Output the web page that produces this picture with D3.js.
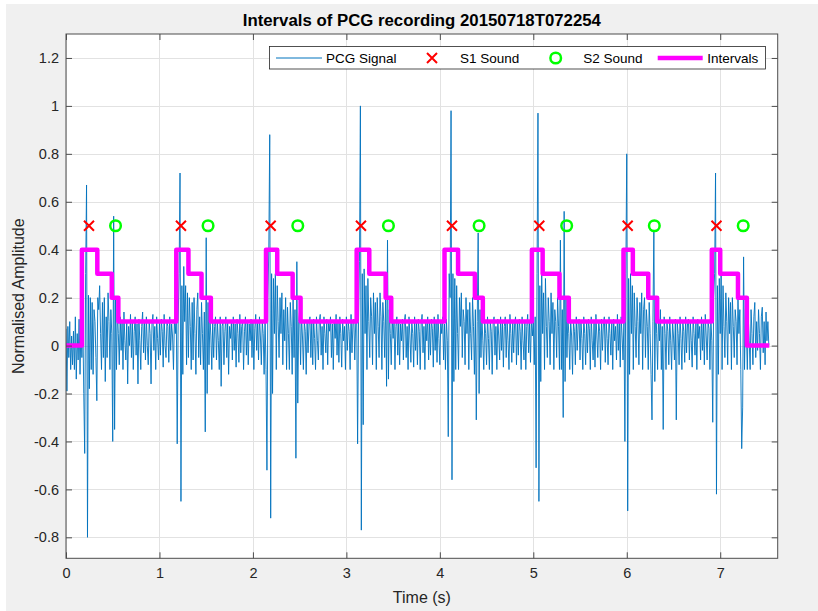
<!DOCTYPE html>
<html><head><meta charset="utf-8">
<script src="https://cdn.jsdelivr.net/npm/d3@7"></script>
<style>
body{margin:0;background:#fff}
svg{display:block;font-family:"Liberation Sans",Arial,Helvetica,sans-serif}
</style>
</head><body><svg id="c" width="818" height="611"></svg>
<script>
// ---------------- data ----------------
const chartTitle = "Intervals of PCG recording 20150718T072254";
const xLabel = "Time (s)";
const yLabel = "Normalised Amplitude";
const xTicks = [0,1,2,3,4,5,6,7];
const yTicks = [-0.8,-0.6,-0.4,-0.2,0,0.2,0.4,0.6,0.8,1,1.2];
const xDomain = [0, 7.615];
const yDomain = [-0.8875, 1.3];
const legendNames = ["PCG Signal","S1 Sound","S2 Sound","Intervals"];

const s1Times = [0.246,1.23,2.19,3.156,4.13,5.064,6.01,6.96];
const s2Times = [0.53,1.52,2.48,3.45,4.42,5.357,6.295,7.246];
const markerLevel = 0.5;

const intervalTimes  = [0, 0.17,0.335,0.49,0.56, 1.18,1.31,1.45,1.55, 2.14,2.26,2.425,2.51, 3.11,3.245,3.42,3.48,
                        4.05,4.195,4.375,4.46, 4.985,5.10,5.28,5.38, 5.965,6.065,6.23,6.325, 6.91,7.0,7.19,7.285, 7.525];
const intervalLevels = [0, .4,.3,.2,.1, .4,.3,.2,.1, .4,.3,.2,.1, .4,.3,.2,.1,
                        .4,.3,.2,.1, .4,.3,.2,.1, .4,.3,.2,.1, .4,.3,.2,0, 0];

const pcgStep = 0.01; // seconds between samples, first sample at t = 0
const pcgSignal = [
.07,-.19,.08,-.05,.1,-.1,.04,-.08,.06,-.1,
.12,-.14,.05,-.06,.11,-.12,.08,-.05,.12,-.2,
-.45,.3,.67,-.8,.21,-.18,.2,-.1,.18,-.12,
.15,.1,-.05,-.23,.2,.15,.25,.05,-.1,.18,
-.05,.2,-.15,.12,-.05,.22,.1,-.1,.15,.05,
-.4,.54,-.35,.2,-.1,.15,.05,-.08,.12,-.02,
.1,-.1,.14,.02,-.06,.1,-.16,.08,0,.13,
-.05,.1,-.1,.06,.12,-.04,.09,-.16,.11,.02,
-.1,.08,.14,-.03,.1,-.06,.12,0,-.08,.1,
.05,-.16,.09,.13,-.02,.08,-.1,.12,.03,-.06,
.1,-.04,.11,.06,-.09,.13,0,-.05,.1,.08,
-.07,.12,-.02,.09,.04,-.1,.11,.05,.14,-.41,
.1,.3,.72,-.65,.25,-.12,.33,.1,.25,-.08,
.22,-.05,.2,.08,-.1,.18,-.06,.2,.05,-.12,
.15,.22,-.05,.12,-.08,.18,.05,-.1,.14,-.36,
.45,-.2,.18,-.08,.12,.04,-.1,.1,-.05,.08,
.12,-.06,.1,.02,-.1,.12,-.17,.08,.1,-.08,
.06,.12,-.05,.1,-.12,.08,.03,.1,-.06,.12,
-.02,.09,-.09,.11,.05,-.07,.13,-.03,.08,.1,
-.1,.06,.12,-.04,.1,-.08,.09,.02,.11,-.05,
.1,-.1,.07,.13,-.02,.1,-.06,.12,.04,-.08,
.1,.05,-.12,.12,-.1,-.52,.2,.4,.88,-.72,
.3,-.2,.28,.05,.3,-.1,.25,.1,-.05,.2,
.05,.22,-.08,.15,.02,.2,-.1,.16,.05,-.1,
.18,.08,-.12,.2,-.05,.15,-.47,.35,-.24,.1,
.15,-.08,.12,.04,-.1,.1,.06,-.12,.1,-.03,
.09,.12,-.05,.1,-.08,.11,.03,-.1,.12,.02,
-.06,.1,.13,-.04,.08,-.1,.12,.05,-.03,.11,
-.08,.1,.06,.12,-.05,.09,-.1,.1,.03,.13,
-.04,.1,-.07,.12,.05,-.09,.11,.02,.08,-.1,
.12,-.02,.1,.06,-.1,.13,-.03,.09,.11,-.06,
.1,.14,-.41,.1,.35,1.0,-.77,.3,-.33,.32,
.05,.25,-.1,.28,.1,-.05,.2,.12,-.08,.22,
.05,.18,-.1,.2,.08,-.05,.22,.12,-.1,.18,
.1,-.05,.2,-.17,.44,-.14,.15,.05,-.08,.12,
.03,.1,-.1,.08,.12,-.04,.1,-.08,.09,.02,
.11,-.06,.1,.13,-.05,.08,-.1,.12,.04,-.07,
.1,.05,-.09,.12,-.02,.1,-.08,.11,.06,-.1,
.09,.13,-.03,.08,-.1,.1,.02,.12,-.06,.1,
-.04,.11,.07,-.09,.12,-.02,.1,-.07,.13,.03,
-.08,.1,.05,.12,-.06,.09,-.1,.11,.02,-.38,
.3,.2,.98,-.56,.3,-.15,.28,-.1,.25,.05,
-.1,.2,.08,.22,-.05,.15,.1,-.08,.2,.05,
.15,-.1,.18,.05,-.06,.2,.08,-.12,.15,-.31,
.1,.47,-.2,.15,-.05,.12,.02,-.1,.1,.05,
-.08,.12,.03,-.1,.1,.06,-.12,.09,.12,-.04,
.08,-.1,.11,.04,-.06,.12,-.02,.1,-.09,.08,
.12,-.05,.1,.02,-.1,.13,.05,-.07,.1,-.03,
.09,.12,-.08,.1,-.04,.11,.06,-.1,.12,.02,
-.06,.1,-.1,.08,.13,-.03,.1,-.07,.11,.04,
.1,-.08,.12,-.51,.3,.97,-.65,.25,-.15,.3,
.05,.22,-.1,.28,.08,-.05,.2,.1,-.08,.22,
.05,.18,-.1,.15,.1,-.05,.2,.08,-.1,.44,
-.1,.15,-.3,.56,-.15,.2,-.05,.12,.05,-.1,
.1,.04,-.12,.1,.06,-.08,.12,-.02,.09,.11,
-.06,.1,.03,-.1,.12,.05,-.08,.1,-.03,.11,
.07,-.1,.12,.02,-.06,.1,-.09,.13,.04,-.05,
.1,.06,-.1,.11,-.02,.09,.12,-.07,.1,.03,
-.08,.12,.05,-.04,.1,-.1,.11,.02,.08,-.06,
.13,-.02,.1,-.09,.12,.04,-.06,.1,-.4,.3,
.8,-.69,.28,-.12,.3,.05,.25,-.1,.22,.08,
-.05,.2,.1,-.08,.18,.05,.22,-.1,.15,.2,
-.05,.15,.08,-.1,.18,.05,-.12,-.31,.1,.48,
-.15,.2,.05,-.1,.12,.02,.15,-.1,.08,-.35,
.12,.05,-.1,.1,.06,-.08,.12,.02,-.1,.1,
.04,-.06,.11,-.31,.1,.05,-.08,.12,.03,-.1,
.1,.06,-.07,.12,-.03,.09,.11,-.06,.1,.02,
-.09,.12,.05,-.04,.1,-.1,.11,.03,.08,-.06,
.12,-.02,.1,-.08,.13,.04,-.06,.1,.07,-.1,
.11,.02,-.32,.2,.3,.72,-.62,.25,-.12,.28,
.05,.3,-.1,.25,.08,-.05,.22,.1,-.08,.2,
.05,.18,-.1,.2,.08,-.05,.15,.1,-.08,.2,
.05,.15,-.1,-.43,-.26,.37,-.1,.15,.05,-.1,
.12,.02,-.1,.15,.05,-.08,.12,.18,-.05,.1,
-.02,.15,.05,-.1,.12,.16,-.03,.1,-.08,.14,
.02,.1,0
];

// ---------------- drawing ----------------
const svg = d3.select("#c");
const P = {l:66, r:777.7, t:34, b:558.3};
const x = d3.scaleLinear().domain(xDomain).range([P.l, P.r]);
const y = d3.scaleLinear().domain(yDomain).range([P.b, P.t]);

const BLUE = "#0072bd", RED = "#ff0000", GREEN = "#00ff00", MAG = "#ff00ff";
const AX = "#4d4d4d";

// figure background
svg.append("rect").attr("x",6).attr("y",4).attr("width",812).attr("height",607).attr("fill","#f0f0f0");
svg.append("rect").attr("x",P.l).attr("y",P.t).attr("width",P.r-P.l).attr("height",P.b-P.t).attr("fill","#fff");

svg.append("defs").append("clipPath").attr("id","clip")
  .append("rect").attr("x",P.l).attr("y",P.t).attr("width",P.r-P.l).attr("height",P.b-P.t);

// grid
const grid = svg.append("g").attr("stroke","#e2e2e2").attr("stroke-width",1);
grid.selectAll("line.gx").data(xTicks).join("line")
  .attr("x1",d=>Math.round(x(d))+0.5).attr("x2",d=>Math.round(x(d))+0.5).attr("y1",P.t).attr("y2",P.b);
grid.selectAll("line.gy").data(yTicks).join("line")
  .attr("y1",d=>Math.round(y(d))+0.5).attr("y2",d=>Math.round(y(d))+0.5).attr("x1",P.l).attr("x2",P.r);

const plot = svg.append("g").attr("clip-path","url(#clip)");

// PCG signal
const line = d3.line().x((d,i)=>x(i*pcgStep)).y(d=>y(d));
plot.append("path").datum(pcgSignal).attr("d",line)
  .attr("fill","none").attr("stroke",BLUE).attr("stroke-width",0.9).attr("stroke-linejoin","round");

// intervals
const steps = intervalTimes.map((t,i)=>[t,intervalLevels[i]]);
const stepLine = d3.line().x(d=>x(d[0])).y(d=>y(d[1])).curve(d3.curveStepAfter);
plot.append("path").datum(steps).attr("d",stepLine)
  .attr("fill","none").attr("stroke",MAG).attr("stroke-width",4.5).attr("stroke-linejoin","round");

// markers
function cross(g, cx, cy){
  const s=5;
  g.append("path").attr("d",`M${cx-s},${cy-s}L${cx+s},${cy+s}M${cx-s},${cy+s}L${cx+s},${cy-s}`)
    .attr("stroke",RED).attr("stroke-width",2).attr("fill","none");
}
const mk = plot.append("g");
s1Times.forEach(t=>cross(mk, x(t), y(markerLevel)));
mk.selectAll("circle").data(s2Times).join("circle")
  .attr("cx",d=>x(d)).attr("cy",y(markerLevel)).attr("r",5.3)
  .attr("fill","none").attr("stroke",GREEN).attr("stroke-width",2.5);

// axes
const fs = "14.5px";
const gb = svg.append("g").attr("transform",`translate(0,${P.b})`)
  .call(d3.axisBottom(x).tickValues(xTicks).tickSize(-6).tickPadding(9).tickFormat(d=>String(d)));
const gt = svg.append("g").attr("transform",`translate(0,${P.t})`)
  .call(d3.axisTop(x).tickValues(xTicks).tickSize(-6).tickFormat(""));
const gl = svg.append("g").attr("transform",`translate(${P.l},0)`)
  .call(d3.axisLeft(y).tickValues(yTicks).tickSize(-6).tickPadding(7).tickFormat(d=>String(d)));
const gr = svg.append("g").attr("transform",`translate(${P.r},0)`)
  .call(d3.axisRight(y).tickValues(yTicks).tickSize(-6).tickFormat(""));
[gb,gt,gl,gr].forEach(g=>{
  g.select(".domain").remove();
  g.selectAll(".tick line").attr("stroke",AX).attr("stroke-width",1);
  g.selectAll(".tick text").attr("fill","#262626").style("font-size",fs).style("font-family",null);
  g.attr("font-family",null).attr("font-size",null);
});
svg.append("rect").attr("x",P.l).attr("y",P.t).attr("width",P.r-P.l).attr("height",P.b-P.t)
  .attr("fill","none").attr("stroke",AX).attr("stroke-width",1);

// labels
svg.append("text").attr("x",(P.l+P.r)/2).attr("y",26).attr("text-anchor","middle")
  .style("font-size","16.8px").style("font-weight","bold").attr("fill","#000").text(chartTitle);
svg.append("text").attr("x",(P.l+P.r)/2).attr("y",603).attr("text-anchor","middle")
  .style("font-size","16px").attr("fill","#262626").text(xLabel);
svg.append("text").attr("transform",`translate(24,${(P.t+P.b)/2}) rotate(-90)`).attr("text-anchor","middle")
  .style("font-size","16px").attr("fill","#262626").text(yLabel);

// legend
const lg = svg.append("g");
lg.append("rect").attr("x",269.5).attr("y",46.5).attr("width",496).attr("height",22.5)
  .attr("fill","#fff").attr("stroke","#262626").attr("stroke-width",0.8);
const ly = 58;
lg.append("line").attr("x1",276).attr("x2",322).attr("y1",ly).attr("y2",ly).attr("stroke",BLUE).attr("stroke-width",1);
cross(lg, 432, ly);
lg.append("circle").attr("cx",555.7).attr("cy",ly).attr("r",5.3).attr("fill","none").attr("stroke",GREEN).attr("stroke-width",2.5);
lg.append("line").attr("x1",657.7).attr("x2",702.7).attr("y1",ly).attr("y2",ly).attr("stroke",MAG).attr("stroke-width",4.5);
const lx = [326,460,583.3,707.3];
lg.selectAll("text").data(legendNames).join("text")
  .attr("x",(d,i)=>lx[i]).attr("y",ly+5).style("font-size","13.5px").attr("fill","#000").text(d=>d);
</script>
</body></html>
